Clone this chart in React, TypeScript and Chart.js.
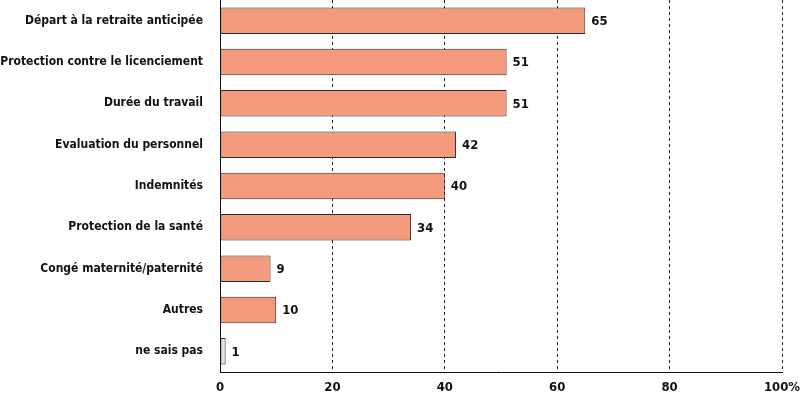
import React, { useEffect, useRef } from "react";
import { Chart, registerables } from "chart.js";

Chart.register(...registerables);

const categories = [
  "Départ à la retraite anticipée",
  "Protection contre le licenciement",
  "Durée du travail",
  "Evaluation du personnel",
  "Indemnités",
  "Protection de la santé",
  "Congé maternité/paternité",
  "Autres",
  "ne sais pas",
];
const values = [65, 51, 51, 42, 40, 34, 9, 10, 1];
const barColors = [
  "#F49B7D", "#F49B7D", "#F49B7D", "#F49B7D", "#F49B7D",
  "#F49B7D", "#F49B7D", "#F49B7D", "#DCE5EE",
];
const xTicks = [0, 20, 40, 60, 80, 100];

const FONT = "'DejaVu Sans Condensed', sans-serif";

const valueLabels = {
  id: "valueLabels",
  afterDatasetsDraw(chart: any) {
    const ctx = chart.ctx;
    const meta = chart.getDatasetMeta(0);
    ctx.save();
    ctx.font = `bold 13px ${FONT}`;
    ctx.fillStyle = "#111";
    ctx.textAlign = "left";
    ctx.textBaseline = "middle";
    meta.data.forEach((bar: any, i: number) => {
      ctx.fillText(String(values[i]), bar.x + 6, bar.y + 1);
    });
    ctx.restore();
  },
};

export default function App() {
  const ref = useRef<HTMLCanvasElement>(null);
  useEffect(() => {
    document.body.style.margin = "0";
    const chart = new Chart(ref.current!, {
      type: "bar",
      data: {
        labels: categories,
        datasets: [
          {
            data: values,
            backgroundColor: barColors,
            borderColor: "#2a2a2a",
            borderWidth: 1,
            borderSkipped: false,
            barPercentage: 0.64,
            categoryPercentage: 1,
          },
        ],
      },
      options: {
        indexAxis: "y",
        animation: false,
        responsive: false,
        maintainAspectRatio: false,
        layout: { padding: { top: 0, right: 18, bottom: 0, left: 0 } },
        plugins: { legend: { display: false }, tooltip: { enabled: false } },
        scales: {
          x: {
            min: 0,
            max: 100,
            afterBuildTicks: (axis: any) => {
              axis.ticks = xTicks.map((v) => ({ value: v }));
            },
            afterFit: (axis: any) => {
              axis.height = 25;
              axis.paddingLeft = 0;
              axis.paddingRight = 0;
              axis.paddingTop = 0;
              axis.paddingBottom = 0;
            },
            grid: {
              drawTicks: false,
              color: (c: any) => (c.tick && c.tick.value === 0 ? "rgba(0,0,0,0)" : "#222"),
              lineWidth: 1,
            },
            border: { display: true, color: "#111", width: 1, dash: [3, 3] },
            ticks: {
              padding: 8,
              color: "#111",
              font: { family: FONT, size: 13, weight: "bold" },
              callback: (v: any) => (v === 100 ? "100%" : String(v)),
            },
          },
          y: {
            afterFit: (axis: any) => {
              axis.width = 220;
              axis.paddingLeft = 0;
              axis.paddingRight = 0;
              axis.paddingTop = 0;
              axis.paddingBottom = 0;
            },
            grid: { display: false, drawTicks: false },
            border: { display: true, color: "#111", width: 1 },
            ticks: {
              padding: 17,
              color: "#111",
              font: { family: FONT, size: 12, weight: "bold" },
            },
          },
        },
      },
      plugins: [valueLabels],
    });
    return () => chart.destroy();
  }, []);
  return (
    <div style={{ width: 800, height: 397 }}>
      <canvas ref={ref} width={800} height={397} />
    </div>
  );
}
